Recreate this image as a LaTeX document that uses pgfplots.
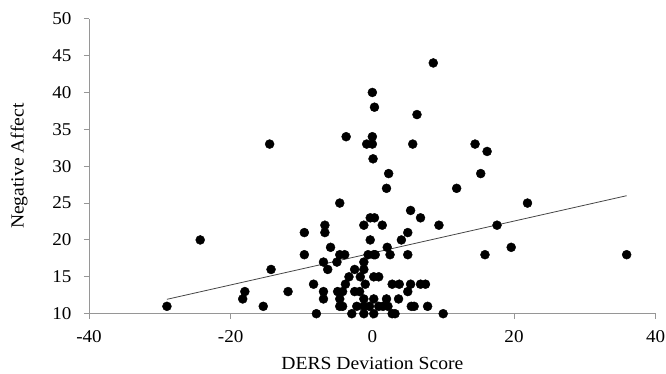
\documentclass[border=0pt]{standalone}
\usepackage{fontspec}
\setmainfont{Liberation Serif}[FakeStretch=1.06]
\usepackage{pgfplots}
\pgfplotsset{compat=1.18}
\definecolor{axgray}{RGB}{150,150,150}
\definecolor{linegray}{RGB}{70,70,70}
\begin{document}
\begin{tikzpicture}
\useasboundingbox (-89pt,-60.3pt) rectangle (577pt,313.7pt);
\begin{axis}[
  at={(0pt,0pt)}, anchor=south west,
  scale only axis, width=566.7pt, height=295pt,
  xmin=-40, xmax=40, ymin=10, ymax=50,
  axis x line=bottom, axis y line=left,
  axis line style={-, draw=axgray, line width=0.9pt},
  xtick={-40,-20,0,20,40}, xticklabels={-40,-20,0,20,40},
  ytick={10,15,20,25,30,35,40,45,50},
  yticklabels={10,15,20,25,30,35,40,45,50},
  tick align=outside, major tick length=5pt,
  tick style={draw=axgray, line width=0.9pt},
  ticklabel style={font=\fontsize{18}{20}\selectfont, text=black},
  xticklabel style={yshift=-8pt},
  yticklabel style={xshift=-9pt},
  xlabel={DERS Deviation Score},
  ylabel={Negative Affect},
  label style={font=\fontsize{18.5}{20}\selectfont},
  xlabel style={at={(axis description cs:0.5,0)}, anchor=center, yshift=-50pt},
  ylabel style={at={(axis description cs:0,0.5)}, anchor=center, rotate=0, yshift=70pt},
  clip=false,
]
\addplot[linegray, line width=0.8pt] coordinates {(-29,11.95) (35.9,26.0)};
\addplot[only marks, mark=*, mark size=4.5pt, mark options={fill=black, draw=black}] coordinates {
(-29.0,11) (-24.3,20) (-14.5,33) (-14.3,16) (-18.0,13) (-18.3,12) (-15.4,11) (-11.9,13)
(-9.6,21) (-9.6,18) (-8.3,14) (-7.9,10) (-6.7,22) (-6.7,21) (-6.9,17) (-6.9,13) (-6.9,12)
(-6.3,16) (-5.9,19) (-4.6,25) (-4.6,18) (-3.9,18) (-5.0,17) (-4.9,13) (-4.6,12) (-4.6,11)
(-4.2,11) (-3.8,14) (-4.2,13) (-3.7,34) (-3.3,15) (-2.9,10) (-2.5,16) (-2.5,13) (-1.8,13)
(-1.7,15) (-2.2,11) (-1.2,22) (-1.2,17) (-1.2,16) (-1.2,12) (-1.2,11) (-1.2,10) (-1.0,14)
(-0.8,33) (-0.3,20) (-0.6,18) (-0.3,23) (0.3,23) (0.0,34) (0.0,33) (0.1,31) (0.0,40)
(0.3,38) (0.2,18) (0.4,18) (0.2,15) (0.9,15) (0.2,12) (0.2,10) (-0.4,11) (0.9,11)
(1.4,22) (1.5,11) (2.0,27) (2.1,19) (2.0,12) (2.3,29) (2.5,18) (2.2,11) (2.8,14)
(2.8,10) (3.2,10) (3.8,14) (3.7,12) (4.1,20) (5.0,21) (5.0,18) (5.0,13) (5.4,14)
(5.4,24) (5.5,11) (5.9,11) (5.7,33) (6.3,37) (6.8,23) (6.8,14) (7.5,14) (7.8,11)
(8.6,44) (9.4,22) (10.0,10) (11.9,27) (14.5,33) (15.3,29) (16.2,32) (15.9,18)
(17.6,22) (19.6,19) (21.9,25) (35.9,18)
};
\end{axis}
\end{tikzpicture}
\end{document}
